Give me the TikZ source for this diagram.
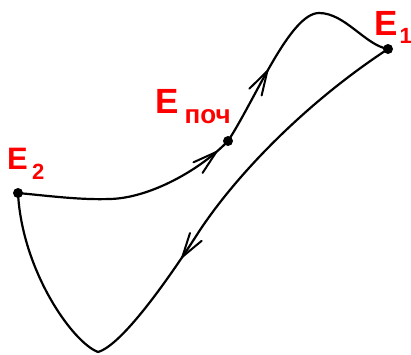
\documentclass[tikz,border=0pt]{standalone}
\usepackage{fontspec}
\setmainfont{Liberation Sans}
\usetikzlibrary{decorations.markings}
\tikzset{
  curve/.style={line width=2.2pt, black, line cap=round, line join=round},
  dot/.style={circle, fill=black, inner sep=0pt, minimum size=10pt},
  lbl/.style={red, inner sep=0pt, anchor=base west, font=\bfseries},
  barb/.style={decoration={markings, mark=at position #1 with {\draw[line width=2pt, line cap=round, line join=round] (-24pt,7pt) -- (0pt,0pt) -- (-24pt,-7pt);}}, postaction={decorate}}
}
\begin{document}
\begin{tikzpicture}[x=1pt,y=-1pt]
\useasboundingbox (0,0) rectangle (411,354);
% points
\node[dot] (p) at (228,141) {};
\node[dot] (e1) at (388,49) {};
\node[dot] (e2) at (18,193) {};
\coordinate (peak) at (319,13);
\coordinate (mid) at (200,230);
\coordinate (bot) at (98,352);
\coordinate (low) at (110,199);
% curves
\draw[curve, barb=0.5] (p.center) .. controls (255,100) and (290,13) .. (peak);
\draw[curve] (peak) .. controls (345,13) and (365,45) .. (e1.center);
\draw[curve] (e1.center) .. controls (310,100) and (240,170) .. (mid);
\draw[curve, barb=0.2] (mid) .. controls (168,280) and (122,345) .. (bot);
\draw[curve] (bot) .. controls (72,342) and (22,270) .. (e2.center);
\draw[curve] (e2.center) .. controls (50,196) and (80,200) .. (low);
\draw[curve, barb=0.88] (low) .. controls (150,198) and (200,170) .. (p.center);
% labels
\node[lbl, font=\bfseries\fontsize{35}{35}\selectfont] (lp) at (155.5,113) {E};
\node[lbl, font=\bfseries\fontsize{26}{26}\selectfont] (lps) at (184.5,123) {поч};
\node[lbl, font=\bfseries\fontsize{35}{35}\selectfont] (l1) at (374.5,35) {E};
\node[lbl, font=\bfseries\fontsize{22}{22}\selectfont] (l1s) at (399.5,43) {1};
\node[lbl, font=\bfseries\fontsize{31}{31}\selectfont] (l2) at (7,169) {E};
\node[lbl, font=\bfseries\fontsize{22}{22}\selectfont] (l2s) at (32,179) {2};
\end{tikzpicture}
\end{document}
